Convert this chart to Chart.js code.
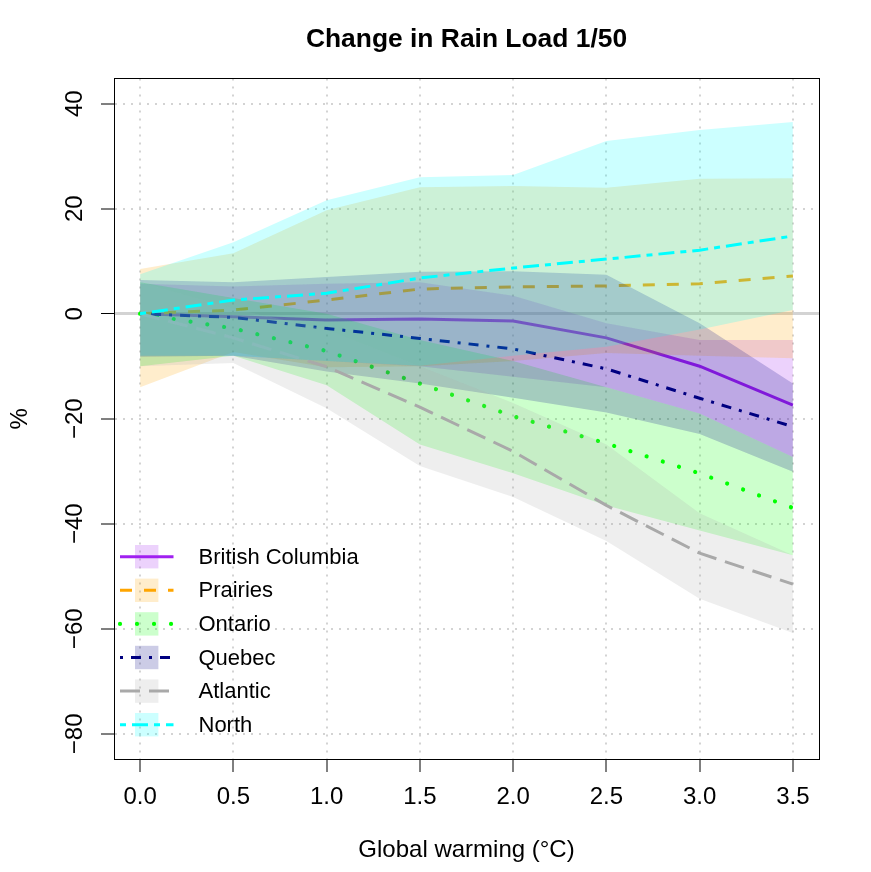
<!DOCTYPE html>
<html>
<head>
<meta charset="utf-8">
<script src="https://cdn.jsdelivr.net/npm/chart.js@4.4.1/dist/chart.umd.min.js"></script>
<style>
  html, body { margin: 0; padding: 0; background: #ffffff; }
  #wrap { width: 871px; height: 872px; }
</style>
</head>
<body>
<div id="wrap"><canvas id="c" width="871" height="872"></canvas></div>
<script>
// ---------------- data ----------------
const warming = [0, 0.5, 1.0, 1.5, 2.0, 2.5, 3.0, 3.5];
const regions = ["British Columbia", "Prairies", "Ontario", "Quebec", "Atlantic", "North"];

const bcMean = [0, -0.6, -1.2, -1.0, -1.4, -4.6, -10.0, -17.4];
const bcLow  = [-8, -8, -9, -10, -12, -14, -19, -27.3];
const bcHigh = [5.7, 5.2, 5.7, 6.0, 3.4, -1.8, -5, -5];

const prMean = [0, 0.7, 2.6, 4.7, 5.1, 5.3, 5.7, 7.2];
const prLow  = [-14, -7.3, -10.2, -10, -9, -7.5, -8, -8.5];
const prHigh = [8.5, 11.5, 19.7, 24.1, 24.3, 24.0, 25.7, 25.8];

const onMean = [0, -2.8, -7.1, -13.3, -19.5, -24.7, -30.4, -37.0];
const onLow  = [-10, -8, -13.6, -24.9, -30.4, -36.5, -41.3, -46];
const onHigh = [6, 3, 0, -5, -9, -14, -19, -27.3];

const qcMean = [0, -0.7, -2.8, -4.7, -6.7, -10.5, -16.1, -21.5];
const qcLow  = [-8.2, -8, -11, -13.3, -16, -18.8, -22.9, -30.1];
const qcHigh = [6.4, 6, 7, 8, 8.1, 7.4, -1.8, -13.3];

const atMean = [0, -4.6, -10.1, -17.8, -26.2, -36.5, -45.6, -51.5];
const atLow  = [-10, -9.4, -18, -29, -34.9, -43.3, -54.3, -60.8];
const atHigh = [6, 1, -3, -10, -17, -24.9, -38, -46];

const noMean = [0, 2.6, 3.9, 6.8, 8.7, 10.4, 12.1, 14.8];
const noLow  = [-8, -8, -9, -9.9, -8, -6.3, -3, 0.7];
const noHigh = [7.5, 13.6, 21.6, 26.0, 26.4, 32.9, 35.0, 36.5];

const xTicks = [0, 0.5, 1.0, 1.5, 2.0, 2.5, 3.0, 3.5];
const yTicks = [-80, -60, -40, -20, 0, 20, 40];
const xRange = [0, 3.5];
const yRange = [-80, 40];

const titleText = "Change in Rain Load 1/50";
const xTitle = "Global warming (\u00B0C)";
const yTitle = "%";

// ---------------- styles ----------------
const FONT = "'Liberation Sans', Arial, Helvetica, sans-serif";
const styles = [
  { color: "#A020F0", rgb: [160, 32, 240], dash: [], cap: "butt", width: 3 },
  { color: "#FFA500", rgb: [255, 165, 0], dash: [12, 12], cap: "butt", width: 3 },
  { color: "#00FF00", rgb: [0, 255, 0], dash: [0.01, 17], cap: "round", width: 4.2 },
  { color: "#000080", rgb: [0, 0, 128], dash: [3, 8, 10, 8], cap: "butt", width: 3 },
  { color: "#A9A9A9", rgb: [169, 169, 169], dash: [20, 9], cap: "butt", width: 3 },
  { color: "#00FFFF", rgb: [0, 255, 255], dash: [6, 6, 16, 6], cap: "butt", width: 3 }
];
const seriesData = [
  [bcMean, bcLow, bcHigh],
  [prMean, prLow, prHigh],
  [onMean, onLow, onHigh],
  [qcMean, qcLow, qcHigh],
  [atMean, atLow, atHigh],
  [noMean, noLow, noHigh]
];
const band = (s) => `rgba(${s.rgb[0]},${s.rgb[1]},${s.rgb[2]},0.2)`;
const pts = (arr) => warming.map((x, i) => ({ x: x, y: arr[i] }));

// R-style axis extension (4%)
const ext = (r) => { const d = (r[1] - r[0]) * 0.04; return [r[0] - d, r[1] + d]; };
const xLim = ext(xRange);
const yLim = ext(yRange);

// ---------------- datasets (band then line, region by region) ----------------
const datasets = [];
let seq = 0;
seriesData.forEach((d, k) => {
  const st = styles[k];
  datasets.push({
    label: regions[k] + " upper",
    data: pts(d[2]),
    fill: "+1",
    backgroundColor: band(st),
    borderColor: "rgba(0,0,0,0)",
    borderWidth: 0,
    pointRadius: 0,
    tension: 0,
    order: 1000 - (seq++)
  });
  datasets.push({
    label: regions[k] + " lower",
    data: pts(d[1]),
    fill: false,
    borderColor: "rgba(0,0,0,0)",
    borderWidth: 0,
    pointRadius: 0,
    tension: 0,
    order: 1000 - (seq++)
  });
  datasets.push({
    label: regions[k],
    data: pts(d[0]),
    fill: false,
    borderColor: st.color,
    borderWidth: st.width,
    borderDash: st.dash,
    borderCapStyle: st.cap,
    pointRadius: 0,
    tension: 0,
    order: 1000 - (seq++)
  });
});

// ---------------- legend (R style: filled box + line sample) ----------------
const rLegend = {
  id: "rLegend",
  afterDatasetsDraw(chart) {
    const { ctx, chartArea } = chart;
    const rowH = 33.6;
    const x0 = chartArea.left + 6;
    ctx.save();
    regions.forEach((name, i) => {
      const st = styles[i];
      const y = chartArea.bottom - 34.3 - (regions.length - 1 - i) * rowH;
      ctx.fillStyle = band(st);
      ctx.fillRect(x0 + 15, y - 11.7, 23.4, 23.4);
      ctx.strokeStyle = st.color;
      ctx.lineWidth = st.width;
      ctx.lineCap = st.cap;
      ctx.setLineDash(st.dash);
      ctx.beginPath();
      ctx.moveTo(x0, y);
      ctx.lineTo(x0 + 53.5, y);
      ctx.stroke();
      ctx.setLineDash([]);
      ctx.fillStyle = "#000";
      ctx.font = "22px " + FONT;
      ctx.textAlign = "left";
      ctx.textBaseline = "middle";
      ctx.fillText(name, x0 + 78.5, y + 1);
    });
    ctx.restore();
  }
};

Chart.defaults.font.family = FONT;
Chart.defaults.color = "#000";

const isZero = (c) => c.tick && c.tick.value === 0;

new Chart(document.getElementById("c"), {
  type: "line",
  data: { datasets: datasets },
  plugins: [rLegend],
  options: {
    responsive: false,
    animation: false,
    devicePixelRatio: 1,
    layout: { padding: { left: 0, right: 52, top: 0, bottom: 0 } },
    plugins: {
      legend: { display: false },
      tooltip: { enabled: false },
      filler: { propagate: false },
      title: {
        display: true,
        text: titleText,
        fullSize: false,
        color: "#000",
        font: { size: 26.4, weight: "bold", family: FONT },
        padding: { top: 24, bottom: 22.8 }
      }
    },
    scales: {
      x: {
        type: "linear",
        position: "bottom",
        min: xLim[0],
        max: xLim[1],
        z: 1,
        afterBuildTicks: (s) => { s.ticks = xTicks.map((v) => ({ value: v })); },
        afterFit: (s) => { s.height = 113; },
        ticks: {
          color: "#000",
          font: { size: 24 },
          padding: 11,
          autoSkip: false,
          maxRotation: 0,
          minRotation: 0,
          callback: (v) => Number(v).toFixed(1)
        },
        grid: {
          color: "#D3D3D3",
          lineWidth: 2,
          drawTicks: true,
          tickLength: 13,
          tickColor: "#000",
          tickWidth: 1,
          tickBorderDash: []
        },
        border: { display: true, color: "#000", width: 1, dash: [2, 6] },
        title: {
          display: true,
          text: xTitle,
          color: "#000",
          font: { size: 24 },
          padding: { top: 0, bottom: 7.6 }
        }
      },
      y: {
        type: "linear",
        position: "left",
        min: yLim[0],
        max: yLim[1],
        z: 1,
        afterBuildTicks: (s) => { s.ticks = yTicks.map((v) => ({ value: v })); },
        afterFit: (s) => { s.width = 114; },
        ticks: {
          color: "#000",
          font: { size: 24 },
          padding: 5.5,
          minRotation: 90,
          maxRotation: 90,
          crossAlign: "center",
          autoSkip: false,
          callback: (v) => (v < 0 ? "\u2212" + Math.abs(v) : String(v))
        },
        grid: {
          color: "#D3D3D3",
          lineWidth: (c) => (isZero(c) ? 3 : 2),
          drawTicks: true,
          tickLength: 13,
          tickColor: "#000",
          tickWidth: 1,
          tickBorderDash: []
        },
        border: {
          display: true,
          color: "#000",
          width: 1,
          dash: (c) => (isZero(c) ? [] : [2, 6])
        },
        title: {
          display: true,
          text: yTitle,
          color: "#000",
          font: { size: 24 },
          padding: { top: 5.6, bottom: 0 }
        }
      },
      x2: {
        type: "linear",
        position: "top",
        min: xLim[0],
        max: xLim[1],
        z: 1,
        afterFit: (s) => { s.height = 0; },
        ticks: { display: false },
        grid: { display: false, drawTicks: false },
        border: { display: true, color: "#000", width: 1 }
      },
      y2: {
        type: "linear",
        position: "right",
        min: yLim[0],
        max: yLim[1],
        z: 1,
        afterFit: (s) => { s.width = 0; },
        ticks: { display: false },
        grid: { display: false, drawTicks: false },
        border: { display: true, color: "#000", width: 1 }
      }
    }
  }
});
</script>
</body>
</html>
